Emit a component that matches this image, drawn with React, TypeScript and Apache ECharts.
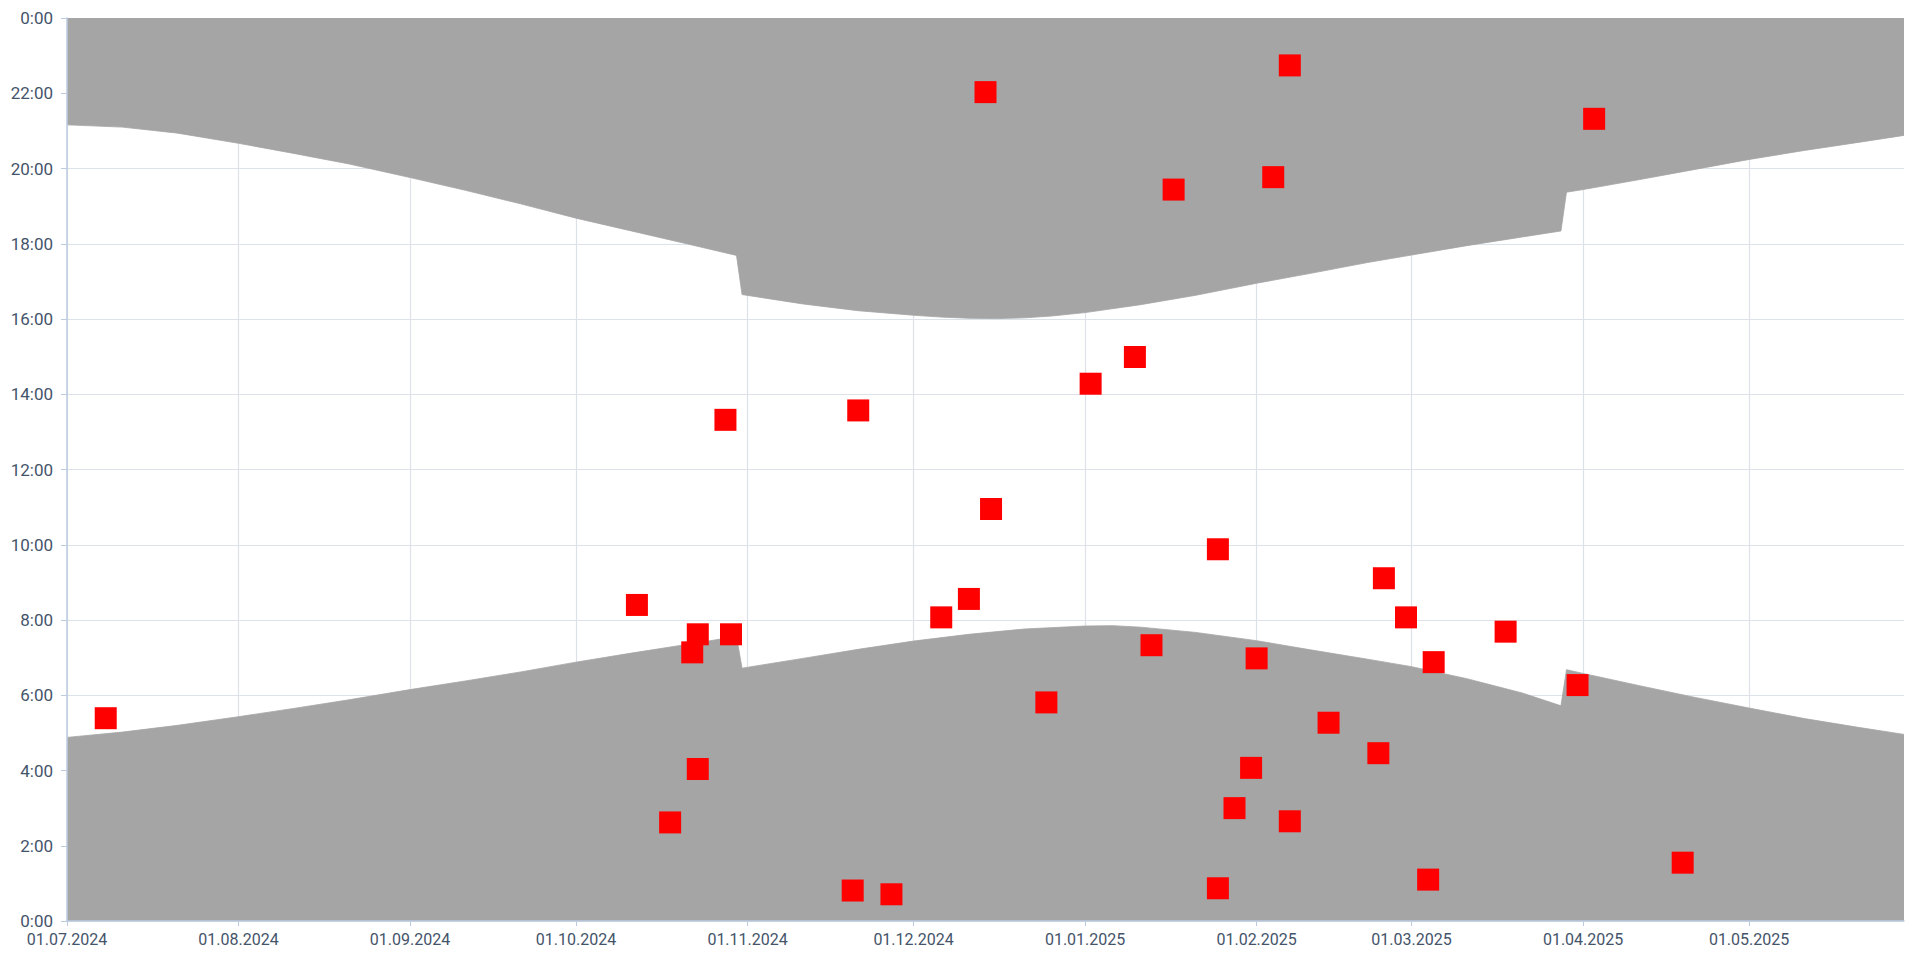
import React, { useEffect, useRef } from "react";
import * as echarts from "echarts";

// X range and month tick labels
const X_MIN = "2024-07-01";
const X_MAX = "2025-05-29";
const MONTH_TICKS = [
  "2024-07-01", "2024-08-01", "2024-09-01", "2024-10-01", "2024-11-01", "2024-12-01",
  "2025-01-01", "2025-02-01", "2025-03-01", "2025-04-01", "2025-05-01",
];

// Sunrise (hours)
const SUNRISE_DATES = [
  "2024-07-01", "2024-07-11", "2024-07-21", "2024-08-01", "2024-08-11", "2024-08-21",
  "2024-09-01", "2024-09-11", "2024-09-21", "2024-10-01", "2024-10-11", "2024-10-21",
  "2024-10-30", "2024-10-31", "2024-11-11", "2024-11-21", "2024-12-01", "2024-12-11",
  "2024-12-21", "2025-01-01", "2025-01-06", "2025-01-11", "2025-01-21", "2025-02-01",
  "2025-02-11", "2025-02-21", "2025-03-01", "2025-03-11", "2025-03-21", "2025-03-28",
  "2025-03-29", "2025-04-01", "2025-04-11", "2025-04-21", "2025-05-01", "2025-05-11",
  "2025-05-21", "2025-05-29",
];
const SUNRISE_HOURS = [
  4.88, 5.02, 5.2, 5.43, 5.65, 5.88,
  6.15, 6.38, 6.62, 6.88, 7.12, 7.35,
  7.56, 6.72, 6.98, 7.22, 7.44, 7.62,
  7.76, 7.84, 7.85, 7.81, 7.67, 7.45,
  7.2, 6.96, 6.76, 6.44, 6.06, 5.72,
  6.68, 6.58, 6.26, 5.95, 5.66, 5.38,
  5.14, 4.96,
];

// Sunset (hours)
const SUNSET_DATES = [
  "2024-07-01", "2024-07-11", "2024-07-21", "2024-08-01", "2024-08-11", "2024-08-21",
  "2024-09-01", "2024-09-11", "2024-09-21", "2024-10-01", "2024-10-11", "2024-10-21",
  "2024-10-30", "2024-10-31", "2024-11-11", "2024-11-21", "2024-12-01", "2024-12-06",
  "2024-12-11", "2024-12-16", "2024-12-21", "2024-12-26", "2025-01-01", "2025-01-11",
  "2025-01-21", "2025-02-01", "2025-02-11", "2025-02-21", "2025-03-01", "2025-03-11",
  "2025-03-21", "2025-03-28", "2025-03-29", "2025-04-01", "2025-04-11", "2025-04-21",
  "2025-05-01", "2025-05-11", "2025-05-21", "2025-05-29",
];
const SUNSET_HOURS = [
  21.16, 21.1, 20.94, 20.67, 20.4, 20.12,
  19.76, 19.42, 19.06, 18.68, 18.34, 18.0,
  17.69, 16.65, 16.4, 16.22, 16.1, 16.05,
  16.02, 16.01, 16.03, 16.08, 16.17, 16.38,
  16.63, 16.95, 17.22, 17.5, 17.7, 17.95,
  18.18, 18.34, 19.37, 19.44, 19.7, 19.97,
  20.24, 20.48, 20.7, 20.88,
];

// Events (red squares)
const EVENT_DATES = [
  "2024-07-08", "2024-10-12", "2024-10-18", "2024-10-22", "2024-10-23", "2024-10-23",
  "2024-10-28", "2024-10-29", "2024-11-20", "2024-11-21", "2024-11-27", "2024-12-06",
  "2024-12-11", "2024-12-14", "2024-12-15", "2024-12-25", "2025-01-02", "2025-01-10",
  "2025-01-13", "2025-01-17", "2025-01-25", "2025-01-25", "2025-01-28", "2025-01-31",
  "2025-02-01", "2025-02-04", "2025-02-07", "2025-02-07", "2025-02-14", "2025-02-23",
  "2025-02-24", "2025-02-28", "2025-03-04", "2025-03-05", "2025-03-18", "2025-03-31",
  "2025-04-03", "2025-04-19",
];
const EVENT_HOURS = [
  5.39, 8.4, 2.62, 7.14, 7.62, 4.04,
  13.32, 7.62, 0.81, 13.57, 0.71, 8.07,
  8.56, 22.03, 10.95, 5.81, 14.28, 14.99,
  7.33, 19.44, 9.88, 0.87, 3.0, 4.07,
  6.98, 19.77, 22.74, 2.65, 5.27, 4.46,
  9.11, 8.07, 1.1, 6.88, 7.69, 6.27,
  21.32, 1.55,
];

const ts = (s: string) => new Date(s + "T00:00:00Z").getTime();
const pad = (n: number) => String(n).padStart(2, "0");
const fmtDate = (v: number) => {
  const d = new Date(v);
  return `${pad(d.getUTCDate())}.${pad(d.getUTCMonth() + 1)}.${d.getUTCFullYear()}`;
};

const LABEL_COLOR = "#44546a";
const GRID_COLOR = "#dde2ea";
const AXIS_COLOR = "#bccbe0";
const AREA_COLOR = "#a5a5a5";
const FONT = "Roboto";

export default function App() {
  const ref = useRef<HTMLDivElement>(null);
  useEffect(() => {
    if (!ref.current) return;
    const chart = echarts.init(ref.current, null, { renderer: "svg" });
    const sunrise = SUNRISE_DATES.map((d, i) => [ts(d), SUNRISE_HOURS[i]]);
    const sunset = SUNSET_DATES.map((d, i) => [ts(d), SUNSET_HOURS[i]]);
    const events = EVENT_DATES.map((d, i) => [ts(d), EVENT_HOURS[i]]);
    const ticks = MONTH_TICKS.map(ts);
    const xmin = ts(X_MIN);
    const xmax = ts(X_MAX);

    chart.setOption({
      animation: false,
      backgroundColor: "#ffffff",
      grid: { left: 67, right: 1, top: 18, bottom: 34, containLabel: false },
      xAxis: [
        {
          type: "value",
          min: xmin,
          max: xmax,
          axisLine: { show: false },
          axisTick: {
            show: true,
            length: 5,
            customValues: ticks,
            lineStyle: { color: AXIS_COLOR, width: 1 },
          },
          axisLabel: {
            customValues: ticks,
            formatter: (v: number) => fmtDate(v),
            color: LABEL_COLOR,
            fontFamily: FONT,
            fontSize: 16,
            margin: 10,
          },
          splitLine: { show: true, lineStyle: { color: GRID_COLOR, width: 1.2 } },
        },
        {
          type: "value",
          min: xmin,
          max: xmax,
          position: "bottom",
          z: 10,
          axisLine: { show: true, lineStyle: { color: AXIS_COLOR, width: 1.5 } },
          axisTick: { show: false },
          axisLabel: { show: false },
          splitLine: { show: false },
        },
      ],
      yAxis: [
        {
          type: "value",
          min: 0,
          max: 24,
          interval: 2,
          axisLine: { show: false },
          axisTick: { show: true, length: 6, lineStyle: { color: AXIS_COLOR, width: 1 } },
          axisLabel: {
            formatter: (v: number) => `${v % 24}:00`,
            color: LABEL_COLOR,
            fontFamily: FONT,
            fontSize: 17,
            margin: 14,
          },
          splitLine: { show: true, lineStyle: { color: GRID_COLOR, width: 1.2 } },
        },
        {
          type: "value",
          min: 0,
          max: 24,
          position: "left",
          z: 10,
          axisLine: { show: true, lineStyle: { color: AXIS_COLOR, width: 1.5 } },
          axisTick: { show: false },
          axisLabel: { show: false },
          splitLine: { show: false },
        },
      ],
      series: [
        {
          name: "Sonnenaufgang",
          type: "line",
          data: sunrise,
          symbol: "none",
          lineStyle: { width: 0.8, color: AREA_COLOR },
          areaStyle: { color: AREA_COLOR, opacity: 1, origin: "start" },
          z: 2,
        },
        {
          name: "Sonnenuntergang",
          type: "line",
          data: sunset,
          symbol: "none",
          lineStyle: { width: 0.8, color: AREA_COLOR },
          areaStyle: { color: AREA_COLOR, opacity: 1, origin: "end" },
          z: 2,
        },
        {
          name: "Ereignisse",
          type: "scatter",
          data: events,
          symbol: "rect",
          symbolSize: 22,
          itemStyle: { color: "#ff0000", opacity: 1 },
          z: 5,
        },
      ],
    });
    return () => chart.dispose();
  }, []);
  return (
    <div
      ref={ref}
      style={{ position: "absolute", left: 0, top: 0, width: 1905, height: 955, background: "#fff" }}
    />
  );
}
